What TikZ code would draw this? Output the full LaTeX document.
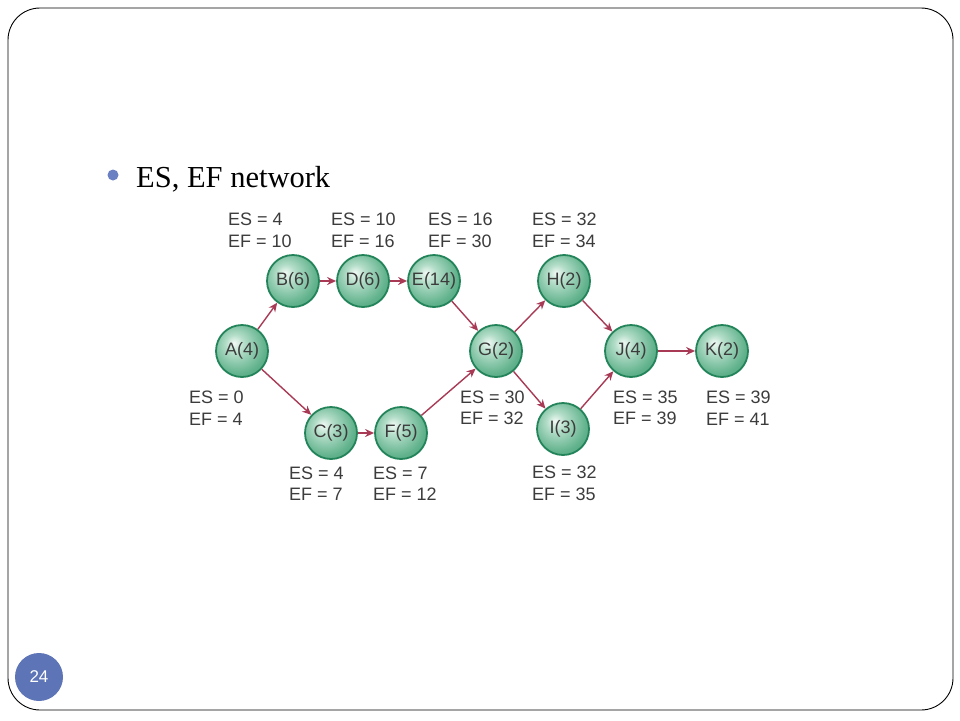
\documentclass[tikz,border=0pt]{standalone}
\usepackage{fontspec}
\setmainfont{Liberation Serif}
\newfontfamily\arial{Liberation Sans}
\usetikzlibrary{arrows.meta}
\definecolor{arrowred}{HTML}{A83A55}
\definecolor{rimgreen}{HTML}{23845A}
\definecolor{gA}{HTML}{F2FAF6}
\definecolor{gB}{HTML}{B3DDC8}
\definecolor{gC}{HTML}{63B38E}
\definecolor{gD}{HTML}{2F9366}
\definecolor{labelgrey}{HTML}{3C3C3C}
\definecolor{bulletblue}{HTML}{6A80C3}
\definecolor{pageblue}{HTML}{5D74B6}
\pgfdeclareradialshading{sphere}{\pgfpoint{-8bp}{8bp}}{%
  color(0bp)=(gA); color(9bp)=(gB); color(26bp)=(gC); color(44bp)=(gD); color(60bp)=(gD)}
\begin{document}
\begin{tikzpicture}[x=1pt,y=-1pt,
  act/.style={circle, minimum size=52pt, inner sep=0pt, shading=sphere,
    draw=rimgreen, line width=1.8pt, text=labelgrey,
    font=\arial\fontsize{18}{18}\selectfont},
  lab/.style={anchor=west, align=left, inner sep=0pt, text=labelgrey,
    font=\arial\fontsize{18}{21.5}\selectfont},
  link/.style={draw=arrowred, line width=1.4pt, -{Stealth[length=9pt,width=8pt]}}
]
\useasboundingbox (0,0) rectangle (960,720);
% slide frame
\draw[black, line width=0.9pt, rounded corners=32pt] (8,8) rectangle (953,710);
% page number
\fill[pageblue] (39,677) circle (24);
\node[text=white, font=\arial\fontsize{17}{17}\selectfont] (pnum) at (39,677) {24};
% title
\fill[bulletblue] (113,175) circle (5.5);
\node[anchor=base west, inner sep=0pt, font=\fontsize{30.5}{31}\selectfont, text=black] (title) at (136,187) {ES, EF network};
% activity nodes
\node[act] (A) at (242,351) {A(4)};
\node[act] (B) at (293,281) {B(6)};
\node[act] (D) at (363,281) {D(6)};
\node[act] (E) at (434,281) {E(14)};
\node[act] (C) at (331,433) {C(3)};
\node[act] (F) at (401,433) {F(5)};
\node[act] (G) at (496,351) {G(2)};
\node[act] (H) at (564,281) {H(2)};
\node[act] (I) at (563,429) {I(3)};
\node[act] (J) at (631,351) {J(4)};
\node[act] (K) at (722,351) {K(2)};
% connectors
\draw[link] (A) -- (B);
\draw[link] (A) -- (C);
\draw[link] (B) -- (D);
\draw[link] (D) -- (E);
\draw[link] (E) -- (G);
\draw[link] (C) -- (F);
\draw[link] (F) -- (G);
\draw[link] (G) -- (H);
\draw[link] (G) -- (I);
\draw[link] (H) -- (J);
\draw[link] (I) -- (J);
\draw[link] (J) -- (K);
% labels
\node[lab] (lB) at (228,230.5) {ES = 4\\EF = 10};
\node[lab] (lD) at (331,230.5) {ES = 10\\EF = 16};
\node[lab] (lE) at (428,230.5) {ES = 16\\EF = 30};
\node[lab] (lH) at (532,230.5) {ES = 32\\EF = 34};
\node[lab] (lA) at (189,408) {ES = 0\\EF = 4};
\node[lab] (lG) at (460,408) {ES = 30\\EF = 32};
\node[lab] (lJ) at (613,408) {ES = 35\\EF = 39};
\node[lab] (lK) at (706,408) {ES = 39\\EF = 41};
\node[lab] (lC) at (289,483.5) {ES = 4\\EF = 7};
\node[lab] (lF) at (373,483.5) {ES = 7\\EF = 12};
\node[lab] (lI) at (532,483.5) {ES = 32\\EF = 35};
\end{tikzpicture}
\end{document}
